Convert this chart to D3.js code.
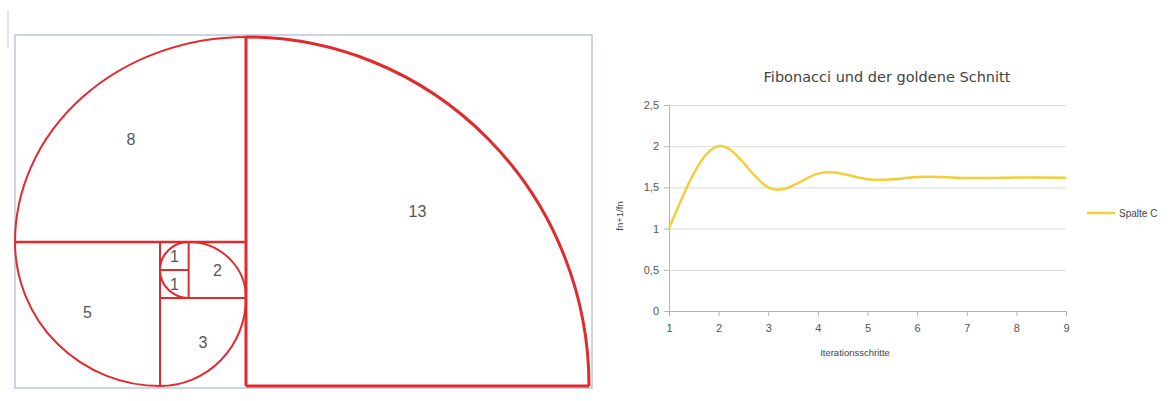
<!DOCTYPE html>
<html>
<head>
<meta charset="utf-8">
<script src="https://cdn.jsdelivr.net/npm/d3@7"></script>
<style>
  body { margin: 0; background: #fff; }
  svg { display: block; font-family: "Liberation Sans", Arial, sans-serif; }
  .sq-label { fill: #555; font-size: 16px; }
  .tick text { fill: #555; font-size: 11px; }
  .title { fill: #444; font-size: 14.5px; font-family: "DejaVu Sans", sans-serif; }
  .axis-label { fill: #444; font-size: 9.5px; }
  .legend { fill: #444; font-size: 10px; }
</style>
</head>
<body>
<svg width="1170" height="401"></svg>
<script>
// left: fibonacci squares, in units (x, y, size)
const squareNames = ['13', '8', '5', '3', '2', '1', '1'];
const squareX = [8, 0, 0, 5, 6, 5, 5];
const squareY = [0, 0, 8, 10, 8, 8, 9];
const squareSize = [13, 8, 5, 3, 2, 1, 1];

// quarter arcs: start point, end point, centre (units)
const arcFrom = [[8, 0], [8, 0], [0, 8], [5, 13], [8, 10], [6, 8], [5, 9]];
const arcTo = [[21, 13], [0, 8], [5, 13], [8, 10], [6, 8], [5, 9], [6, 10]];
const arcCenter = [[8, 13], [8, 8], [5, 8], [5, 10], [6, 10], [6, 9], [6, 9]];

// dividing lines
const dividers = [
  [[8, 0], [8, 13], 3],
  [[8, 13], [21, 13], 3],
  [[0, 8], [8, 8], 2.4],
  [[5, 8], [5, 13], 2],
  [[5, 10], [8, 10], 2],
  [[6, 8], [6, 10], 2],
  [[5, 9], [6, 9], 2]
];

// right: ratio chart
const steps = [1, 2, 3, 4, 5, 6, 7, 8, 9];
const ratios = [1, 2, 1.5, 1.667, 1.6, 1.625, 1.615, 1.619, 1.618];
const yTicks = [0, 0.5, 1, 1.5, 2, 2.5];
const seriesName = 'Spalte C';

const svg = d3.select('svg');

// the drawing is not quite proportional, so piecewise scales
const fx = d3.scaleLinear().domain([0, 5, 8, 21]).range([15, 160, 246, 589]);
const fy = d3.scaleLinear().domain([0, 8, 10, 13]).range([37, 242, 298, 386]);

const fib = svg.append('g');

// faint page margin line
fib.append('line')
  .attr('x1', 8).attr('x2', 8).attr('y1', 10).attr('y2', 48)
  .attr('stroke', '#ddd').attr('stroke-width', 1.5);

fib.append('rect')
  .attr('x', fx(0)).attr('y', fy(0) - 2)
  .attr('width', fx(21) - fx(0) + 3).attr('height', fy(13) - fy(0) + 4)
  .attr('fill', 'none').attr('stroke', '#bcc6da').attr('stroke-width', 1.5);

fib.selectAll('.div')
  .data(dividers)
  .enter()
  .append('line')
  .attr('x1', d => fx(d[0][0])).attr('y1', d => fy(d[0][1]))
  .attr('x2', d => fx(d[1][0])).attr('y2', d => fy(d[1][1]))
  .attr('stroke', '#e12a2d')
  .attr('stroke-width', d => d[2]);

const arcPath = (i) => {
  const a = arcFrom[i], b = arcTo[i], c = arcCenter[i];
  const ax = fx(a[0]), ay = fy(a[1]), bx = fx(b[0]), by = fy(b[1]);
  const cx = fx(c[0]), cy = fy(c[1]);
  const rx = Math.max(Math.abs(ax - cx), Math.abs(bx - cx));
  const ry = Math.max(Math.abs(ay - cy), Math.abs(by - cy));
  const cross = (ax - cx) * (by - cy) - (ay - cy) * (bx - cx);
  return `M${ax},${ay} A${rx},${ry} 0 0 ${cross > 0 ? 1 : 0} ${bx},${by}`;
};

fib.selectAll('.arc')
  .data(arcFrom)
  .enter()
  .append('path')
  .attr('d', (d, i) => arcPath(i))
  .attr('fill', 'none')
  .attr('stroke', '#e12a2d')
  .attr('stroke-width', (d, i) => i === 0 ? 3 : 2);

fib.selectAll('.sq-label')
  .data(squareNames)
  .enter()
  .append('text')
  .attr('class', 'sq-label')
  .attr('x', (d, i) => fx(squareX[i] + squareSize[i] / 2))
  .attr('y', (d, i) => fy(squareY[i] + squareSize[i] / 2))
  .attr('dy', (d, i) => i === 0 ? 8 : 0)
  .attr('text-anchor', 'middle')
  .attr('dominant-baseline', 'central')
  .text(d => d);

// ratio chart
const x = d3.scaleLinear().domain([1, 9]).range([669, 1066]);
const y = d3.scaleLinear().domain([0, 2.5]).range([311, 105]);

const chart = svg.append('g');

chart.append('g')
  .attr('class', 'grid')
  .attr('transform', `translate(${x(1)},0)`)
  .call(d3.axisLeft(y).tickValues(yTicks).tickSize(-(x(9) - x(1))).tickFormat(''))
  .call(g => g.select('.domain').remove())
  .call(g => g.selectAll('line').attr('stroke', '#d9d9d9'));

chart.append('g')
  .attr('transform', `translate(${x(1)},0)`)
  .call(d3.axisLeft(y).tickValues(yTicks).tickSize(5).tickPadding(5)
    .tickFormat(d => String(d).replace('.', ',')))
  .call(g => g.select('.domain').attr('stroke', '#b5b5b5'))
  .call(g => g.selectAll('line').attr('stroke', '#b5b5b5'))
  .call(g => g.selectAll('text').style('font-family', 'Liberation Sans, sans-serif'));

chart.append('g')
  .attr('transform', `translate(0,${y(0)})`)
  .call(d3.axisBottom(x).tickValues(steps).tickSize(5).tickPadding(8).tickFormat(d3.format('d')))
  .call(g => g.select('.domain').attr('stroke', '#b5b5b5'))
  .call(g => g.selectAll('line').attr('stroke', '#b5b5b5'))
  .call(g => g.selectAll('text').style('font-family', 'Liberation Sans, sans-serif'));

const line = d3.line()
  .x((d, i) => x(steps[i]))
  .y(d => y(d))
  .curve(d3.curveNatural);

chart.append('path')
  .datum(ratios)
  .attr('d', line)
  .attr('fill', 'none')
  .attr('stroke', '#f2cf3a')
  .attr('stroke-width', 2.5);

chart.append('text')
  .attr('class', 'title')
  .attr('x', 887)
  .attr('y', 82)
  .attr('text-anchor', 'middle')
  .text('Fibonacci und der goldene Schnitt');

chart.append('text')
  .attr('class', 'axis-label')
  .attr('x', 855)
  .attr('y', 356)
  .attr('text-anchor', 'middle')
  .text('Iterationsschritte');

chart.append('text')
  .attr('class', 'axis-label')
  .attr('transform', 'translate(623,216) rotate(-90)')
  .attr('text-anchor', 'middle')
  .text('fn+1/fn');

// legend
chart.append('line')
  .attr('x1', 1087).attr('x2', 1115)
  .attr('y1', 213).attr('y2', 213)
  .attr('stroke', '#f2cf3a').attr('stroke-width', 2.5);

chart.append('text')
  .attr('class', 'legend')
  .attr('x', 1119)
  .attr('y', 213)
  .attr('dominant-baseline', 'central')
  .text(seriesName);
</script>
</body>
</html>
